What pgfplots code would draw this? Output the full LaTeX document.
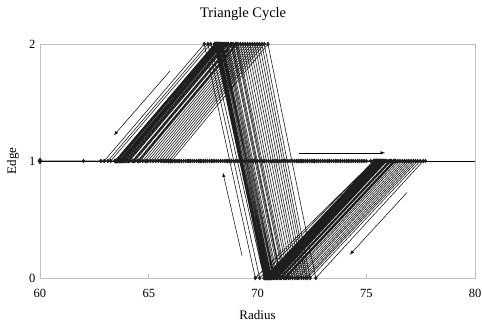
\documentclass[border=0pt]{standalone}
\usepackage{pgfplots}
\pgfplotsset{compat=1.18}
\usepackage{fontspec}
\setmainfont{Liberation Serif}
\definecolor{framegray}{RGB}{192,192,192}
\definecolor{lineblk}{RGB}{30,30,30}
\begin{document}
\begin{tikzpicture}
\begin{axis}[
  at={(0,0)}, anchor=south west,
  scale only axis, width=435bp, height=234bp,
  xmin=60, xmax=80, ymin=0, ymax=2,
  xtick={60,65,70,75,80}, ytick={0,1,2},
  axis line style={framegray, line width=0.8bp},
  xtick style={framegray, line width=0.8bp},
  ytick style={draw=none},
  major tick length=4bp, tick align=inside,
  xtick pos=bottom, ytick pos=left,
  /pgf/number format/assume math mode=true,
  tick label style={font=\fontsize{12.5bp}{14bp}\selectfont},
  xticklabel style={yshift=-8bp},
  yticklabel style={xshift=-1bp},
  label style={font=\fontsize{13bp}{15bp}\selectfont},
  xlabel={Radius},
  xlabel style={at={(axis description cs:0.5,-0.158)}, anchor=center},
  ylabel={Edge},
  ylabel style={at={(axis description cs:-0.062,0.5)}, anchor=center},
  clip=false,
]
% horizontal axis crossing at Edge = 1
\addplot[black, line width=0.8bp] coordinates {(60,1) (80,1)};
\addplot[lineblk, line width=0.6bp, mark=diamond*, mark size=1.8bp, mark options={fill=lineblk, draw=lineblk}] table {
x y
60 1
62 1
62.8 1
64.9 1
67.3 1
69.9 1
72.6 1
75.42 1
70.36 0
68.05 2
63.46 1
66.5 1
69.8 1
72.9 1
75.45 1
70.40 0
68.12 2
63.52 1
66.8 1
70.3 1
73.4 1
75.35 1
69.90 0
67.55 2
62.95 1
65.9 1
69.1 1
72.2 1
75.58 1
70.52 0
68.20 2
63.66 1
67.1 1
70.6 1
73.8 1
75.50 1
70.44 0
68.18 2
63.55 1
66.2 1
68.9 1
71.7 1
75.66 1
70.60 0
68.35 2
63.78 1
67.4 1
71.2 1
74.1 1
75.38 1
70.33 0
68.02 2
63.44 1
65.6 1
68.7 1
72.4 1
75.76 1
70.72 0
68.42 2
63.88 1
66.9 1
70.1 1
73.2 1
75.47 1
70.38 0
68.10 2
63.50 1
67.6 1
71.4 1
74.6 1
75.61 1
70.55 0
68.28 2
63.70 1
66.4 1
69.5 1
72.8 1
75.95 1
70.92 0
68.66 2
64.12 1
67.2 1
70.9 1
74.3 1
75.33 1
70.10 0
67.72 2
63.12 1
66.0 1
69.3 1
71.9 1
76.16 1
71.10 0
68.88 2
64.36 1
67.8 1
71.6 1
74.8 1
75.52 1
70.46 0
68.16 2
63.57 1
65.8 1
68.8 1
72.1 1
76.36 1
71.32 0
69.10 2
64.60 1
68.1 1
71.0 1
73.7 1
75.68 1
70.62 0
68.32 2
63.76 1
66.6 1
70.4 1
73.5 1
76.55 1
71.50 0
69.32 2
64.84 1
67.9 1
72.0 1
75.0 1
75.44 1
70.39 0
68.11 2
63.51 1
66.3 1
69.7 1
72.5 1
75.86 1
70.80 0
68.55 2
64.00 1
67.0 1
70.2 1
73.9 1
76.76 1
71.72 0
69.54 2
65.08 1
68.3 1
71.8 1
74.9 1
75.56 1
70.50 0
68.22 2
63.64 1
66.1 1
69.0 1
72.3 1
76.05 1
71.00 0
68.77 2
64.24 1
67.5 1
70.8 1
73.3 1
76.96 1
71.90 0
69.76 2
65.32 1
68.5 1
72.2 1
75.2 1
75.40 1
70.35 0
68.04 2
63.45 1
65.7 1
69.4 1
72.7 1
76.25 1
71.20 0
68.99 2
64.48 1
67.7 1
71.3 1
74.4 1
77.16 1
72.12 0
69.98 2
65.56 1
68.6 1
71.9 1
75.6 1
75.71 1
70.66 0
68.38 2
63.82 1
66.7 1
70.0 1
73.6 1
76.45 1
71.42 0
69.21 2
64.72 1
67.9 1
71.5 1
74.7 1
77.36 1
72.30 0
70.20 2
65.80 1
68.8 1
72.3 1
75.9 1
75.49 1
70.45 0
68.14 2
63.58 1
66.2 1
69.6 1
72.0 1
76.66 1
71.61 0
69.43 2
64.96 1
68.0 1
71.1 1
74.2 1
77.62 1
72.68 0
70.48 2
66.04 1
69.2 1
72.8 1
76.3 1
75.81 1
70.76 0
68.49 2
63.94 1
66.8 1
70.5 1
73.0 1
75.36 1
70.30 0
67.85 2
63.25 1
65.9 1
68.6 1
71.8 1
76.86 1
71.82 0
69.65 2
65.20 1
68.2 1
71.7 1
74.5 1
75.63 1
70.57 0
68.27 2
63.72 1
66.4 1
69.9 1
73.1 1
77.06 1
72.02 0
69.87 2
65.44 1
68.4 1
72.1 1
75.4 1
75.46 1
70.41 0
68.09 2
63.53 1
66.0 1
69.2 1
72.6 1
77.26 1
72.22 0
70.09 2
65.68 1
68.7 1
72.5 1
75.8 1
75.90 1
70.86 0
68.60 2
64.06 1
67.3 1
70.7 1
74.0 1
77.48 1
72.42 0
70.31 2
65.92 1
69.0 1
72.6 1
76.1 1
75.67 1
70.61 0
68.33 2
63.77 1
66.5 1
69.8 1
73.3 1
76.10 1
71.06 0
68.82 2
64.30 1
67.4 1
70.9 1
74.1 1
75.57 1
70.51 0
68.21 2
63.65 1
66.9 1
70.3 1
73.6 1
76.30 1
71.26 0
69.04 2
64.54 1
67.6 1
71.2 1
74.6 1
77.72 1
};
\addplot[only marks, mark=diamond*, mark size=3bp, mark options={fill=lineblk, draw=lineblk}] coordinates {(60,1)};
% direction arrows
\draw[-latex, black, line width=0.5bp] (axis cs:65.98,1.77) -- (axis cs:63.40,1.22);
\draw[-latex, black, line width=0.5bp] (axis cs:71.91,1.07) -- (axis cs:75.86,1.07);
\draw[-latex, black, line width=0.5bp] (axis cs:69.29,0.19) -- (axis cs:68.41,0.90);
\draw[-latex, black, line width=0.5bp] (axis cs:76.87,0.73) -- (axis cs:74.25,0.20);
% chart title
\node[anchor=base, font=\fontsize{14.5bp}{16bp}\selectfont, inner sep=0pt] at (axis description cs:0.467,1.115) {Triangle Cycle};
\end{axis}
\pgfresetboundingbox
\path (-40bp,-49bp) rectangle (442bp,278bp);
\end{tikzpicture}
\end{document}
